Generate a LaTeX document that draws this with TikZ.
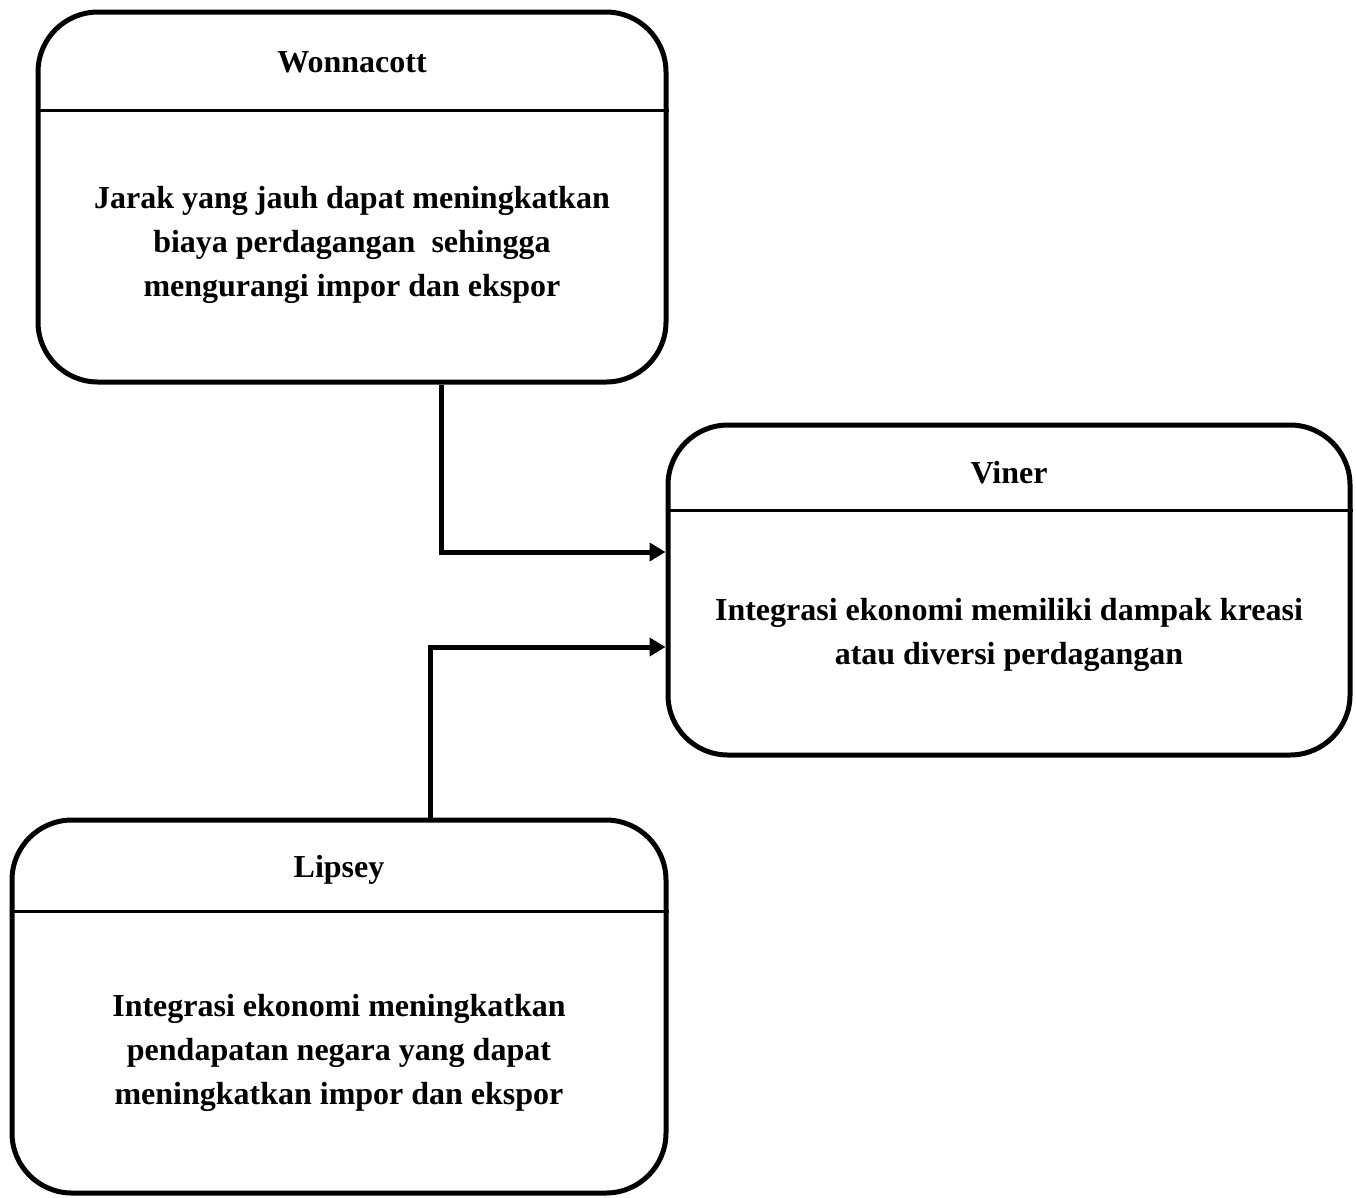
\documentclass[tikz,border=0pt]{standalone}
\usepackage{fontspec}
\setmainfont{Liberation Serif}
\usetikzlibrary{arrows.meta}

\begin{document}
\begin{tikzpicture}[x=1pt, y=-1pt,
  card/.style={draw, line width=5pt, rounded corners=60pt},
  head/.style={line width=3pt},
  txt/.style={font=\fontsize{32}{44}\selectfont\bfseries, align=center},
  conn/.style={line width=5pt, -{Triangle[length=16pt, width=18pt]}}]
  \useasboundingbox (0,0) rectangle (1356,1197);
  % kotak
  \node[card, minimum width=628pt, minimum height=370pt] (Wonnacott) at (352,197) {};
  \node[card, minimum width=682pt, minimum height=330pt] (Viner) at (1009,590) {};
  \node[card, minimum width=654pt, minimum height=373pt] (Lipsey) at (339,1006.5) {};
  % garis judul
  \draw[head] (Wonnacott.west |- 0,110) -- (Wonnacott.east |- 0,110);
  \draw[head] (Viner.west |- 0,510) -- (Viner.east |- 0,510);
  \draw[head] (Lipsey.west |- 0,911) -- (Lipsey.east |- 0,911);
  % teks
  \node[txt] (tW) at (352,62) {Wonnacott};
  \node[txt] (bW) at (352,245) {Jarak yang jauh dapat meningkatkan\\biaya perdagangan \ sehingga\\mengurangi impor dan ekspor};
  \node[txt] (tV) at (1009,473) {Viner};
  \node[txt] (bV) at (1009,635) {Integrasi ekonomi memiliki dampak kreasi\\atau diversi perdagangan};
  \node[txt] (tL) at (339,870) {Lipsey};
  \node[txt] (bL) at (339,1053) {Integrasi ekonomi meningkatkan\\pendapatan negara yang dapat\\meningkatkan impor dan ekspor};
  % panah
  \draw[conn] ([xshift=89pt]Wonnacott.south) |- ([yshift=38pt]Viner.west);
  \draw[conn] ([xshift=91pt]Lipsey.north) |- ([yshift=-57pt]Viner.west);
\end{tikzpicture}
\end{document}
